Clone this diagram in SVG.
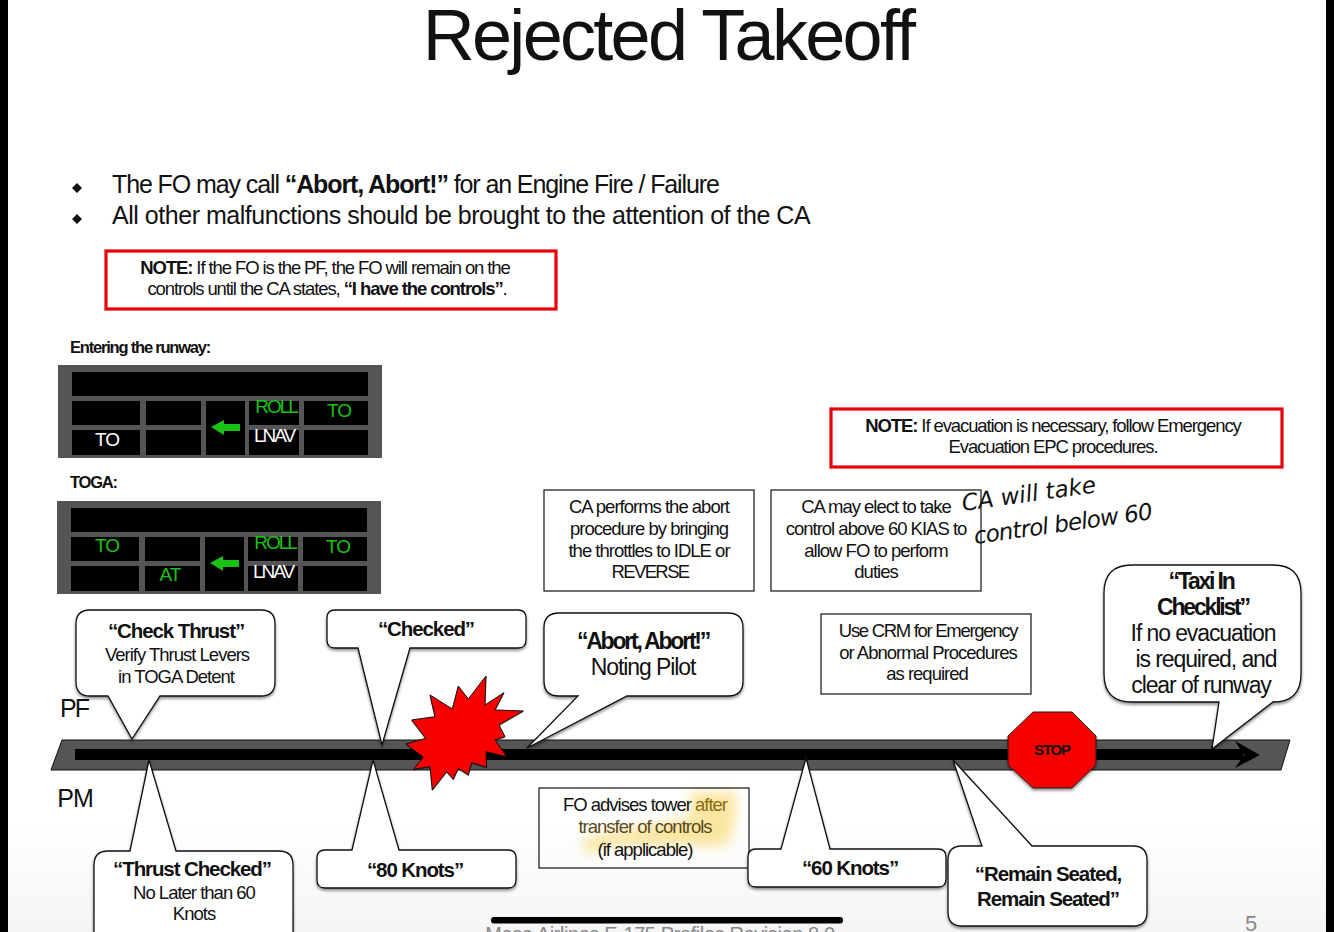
<svg xmlns="http://www.w3.org/2000/svg" width="1334" height="932" viewBox="0 0 1334 932">
<style>
text{font-family:"Liberation Sans",Arial,sans-serif;fill:#111;text-anchor:middle}
.t{font-size:18.5px;letter-spacing:-1px}
.n{font-size:18.5px;letter-spacing:-1.1px}
.b{font-weight:bold}
.c{font-size:20.5px;letter-spacing:-1.1px}
.c2{font-size:23px;letter-spacing:-1.1px}
.c3{font-size:23px;font-weight:bold;letter-spacing:-2.2px}
.cb{fill:#fff;stroke:#111;stroke-width:1.3;filter:url(#sh)}
.box{fill:#fff;stroke:#111;stroke-width:1.2}
.red{fill:#fff;stroke:#e8000d;stroke-width:3.2}
.cell{fill:#000}
.g{fill:#19c214;font-size:19px;letter-spacing:-1px}
.w{fill:#fff;font-size:19px;letter-spacing:-1px}
.tight{letter-spacing:-2px}
.hand{font-family:"DejaVu Sans",sans-serif;font-style:italic;font-size:23px;text-anchor:start;fill:#111}
</style>
<defs>
<filter id="sh" x="-10%" y="-10%" width="120%" height="125%"><feDropShadow dx="0" dy="2" stdDeviation="1.5" flood-color="#000" flood-opacity=".45"/></filter>
<filter id="bl" x="-30%" y="-30%" width="160%" height="160%"><feGaussianBlur stdDeviation="6"/></filter>
<linearGradient id="bg" x1="0" y1="0" x2="0" y2="1"><stop offset=".88" stop-color="#fff"/><stop offset="1" stop-color="#f5f5f5"/></linearGradient>
<g id="panel">
<rect x="58" y="365" width="324" height="93" fill="#555"/>
<rect class="cell" x="72" y="372" width="296" height="24"/>
<rect class="cell" x="72" y="401" width="68" height="24"/><rect class="cell" x="146" y="401" width="55" height="24"/>
<rect class="cell" x="72" y="430" width="68" height="25"/><rect class="cell" x="146" y="430" width="55" height="25"/>
<rect class="cell" x="206" y="401" width="39" height="54"/>
<rect class="cell" x="249" y="401" width="50" height="24"/><rect class="cell" x="249" y="430" width="50" height="25"/>
<rect class="cell" x="304" y="401" width="64" height="24"/><rect class="cell" x="304" y="430" width="64" height="25"/>
<polygon points="211,427 224,420 224,424 240,424 240,431 224,431 224,435" fill="#19c214"/>
<text class="g tight" x="276" y="413">ROLL</text>
<text class="w tight" x="274" y="442">LNAV</text>
<text class="g" x="339" y="417">TO</text>
</g>
</defs>
<rect width="1334" height="932" fill="url(#bg)"/>
<rect x="0" y="0" width="8" height="932" fill="#000"/>
<rect x="1326" y="0" width="8" height="932" fill="#000"/>

<text id="title" x="668" y="60" font-size="72" letter-spacing="-2.7">Rejected Takeoff</text>

<g id="bullets">
<path d="M77 183l5 5-5 5-5-5zM77 214l5 5-5 5-5-5z" fill="#111"/>
<text x="112" y="193" font-size="25" letter-spacing="-1.1" style="text-anchor:start">The FO may call <tspan class="b">“Abort, Abort!”</tspan> for an Engine Fire / Failure</text>
<text x="112" y="224" font-size="25" letter-spacing="-.47" style="text-anchor:start">All other malfunctions should be brought to the attention of the CA</text>
</g>

<g id="note1">
<rect class="red" x="106" y="251" width="450" height="58"/>
<text class="n" x="325" y="274"><tspan class="b">NOTE:</tspan> If the FO is the PF, the FO will remain on the</text>
<text class="n" x="327" y="295">controls until the CA states, <tspan class="b">“I have the controls”</tspan>.</text>
</g>

<g id="fma1">
<text class="b" x="70" y="353" font-size="16.5" letter-spacing="-1.2" style="text-anchor:start">Entering the runway:</text>
<use href="#panel"/>
<text class="w" x="107" y="446">TO</text>
</g>
<g id="fma2">
<text class="b" x="70" y="488" font-size="16.5" letter-spacing="-1.2" style="text-anchor:start">TOGA:</text>
<use href="#panel" transform="translate(-1,136)"/>
<text class="g" x="107" y="552">TO</text>
<text class="g" x="170" y="581">AT</text>
</g>

<g id="note2">
<rect class="red" x="831" y="409" width="451" height="58"/>
<text class="n" x="1053" y="432"><tspan class="b">NOTE:</tspan> If evacuation is necessary, follow Emergency</text>
<text class="n" x="1053" y="453">Evacuation EPC procedures.</text>
</g>

<g id="box-ca-abort">
<rect class="box" x="544" y="490" width="210" height="101"/>
<text class="t" x="649" y="513">CA performs the abort</text>
<text class="t" x="649" y="535">procedure by bringing</text>
<text class="t" x="649" y="557">the throttles to IDLE or</text>
<text class="t" x="650" y="578" style="letter-spacing:-1.6px">REVERSE</text>
</g>
<g id="box-ca-control">
<rect class="box" x="771" y="490" width="210" height="101"/>
<text class="t" x="876" y="513">CA may elect to take</text>
<text class="t" x="876" y="535">control above 60 KIAS to</text>
<text class="t" x="876" y="557">allow FO to perform</text>
<text class="t" x="876" y="578">duties</text>
</g>
<g id="handwriting">
<text class="hand" transform="translate(963,511) rotate(-8)">CA will take</text>
<text class="hand" transform="translate(975,544) rotate(-8)" style="letter-spacing:-.8px">control below 60</text>
</g>
<g id="box-crm">
<rect class="box" x="821" y="614" width="210" height="80"/>
<text class="t" x="928" y="637" style="letter-spacing:-1.3px">Use CRM for Emergency</text>
<text class="t" x="928" y="659">or Abnormal Procedures</text>
<text class="t" x="927" y="680">as required</text>
</g>
<g id="box-tower">
<path d="M690 792h46v26l-8 28h-116l-28 8v-16l50-10 56-10z" fill="#f8dc7c" opacity=".7" filter="url(#bl)"/>
<rect x="539" y="788" width="210" height="80" fill="none" stroke="#111" stroke-width="1.2"/>
<text class="t" x="645" y="811">FO advises tower <tspan style="fill:#8a6a10">after</tspan></text>
<text class="t" x="645" y="833" style="fill:#5a4a1a">transfer of controls</text>
<text class="t" x="645" y="856">(if applicable)</text>
</g>

<text id="pf" x="74" y="717" font-size="25" letter-spacing="-2">PF</text>
<text id="pm" x="75" y="807" font-size="25" letter-spacing="-1">PM</text>

<g id="timeline">
<polygon points="62,740 1290,740 1281,770 51,770" fill="#555" stroke="#111" stroke-width="1"/>
<path d="M75 749H1243V760H75z" fill="#000"/>
<path d="M1235 741L1260 755L1235 768L1244 755z" fill="#000"/>
</g>

<g id="connectors">
<path class="cb" d="M90 610H261Q275 610 275 624V682Q275 696 261 696H160L132 739L108 696H90Q76 696 76 682V624Q76 610 90 610Z"/>
<path class="cb" d="M335 610H518Q526 610 526 618V640Q526 648 518 648H410L382 745L358 648H335Q327 648 327 640V618Q327 610 335 610Z"/>
<path class="cb" d="M559 613H728Q743 613 743 628V681Q743 696 728 696H627L527 748L578 696H559Q544 696 544 681V628Q544 613 559 613Z"/>
<path class="cb" d="M1132 565H1273Q1301 565 1301 593V674Q1301 702 1273 702L1212 749L1219 702H1132Q1104 702 1104 674V593Q1104 565 1132 565Z"/>
<path class="cb" d="M130 851L149 760L176 851H279Q293 851 293 865V945H94V865Q94 851 108 851Z"/>
<path class="cb" d="M325 850H352L373 760L399 850H508Q516 850 516 858V880Q516 888 508 888H325Q317 888 317 880V858Q317 850 325 850Z"/>
<path class="cb" d="M756 849H781L806 758L830 849H938Q946 849 946 857V879Q946 887 938 887H756Q748 887 748 879V857Q748 849 756 849Z"/>
<path class="cb" d="M962 846H982L953 760L1032 846H1133Q1147 846 1147 860V912Q1147 926 1133 926H962Q948 926 948 912V860Q948 846 962 846Z"/>
</g>

<g id="burst">
<polygon transform="translate(380,660) scale(.3333)" filter="url(#sh)" fill="#f70000" stroke="#111" stroke-width="3" points="318,48 315,135 372,98 345,150 430,153 357,195 375,230 345,240 380,290 318,275 320,322 275,308 265,345 235,325 220,358 200,335 157,390 150,320 100,328 130,292 78,252 137,235 95,180 165,170 150,105 217,147 235,78 265,117"/>
</g>
<g id="stop">
<polygon points="1033,712 1072,712 1096,736 1096,765 1072,788 1033,788 1008,765 1008,736" fill="#f70000" stroke="#222" stroke-width="1" filter="url(#sh)"/>
<text class="b" x="1052" y="755" font-size="15" letter-spacing="-1.2">STOP</text>
</g>

<g id="check-thrust"><text class="c b" x="176" y="638">“Check Thrust”</text><text class="t" x="177" y="661">Verify Thrust Levers</text><text class="t" x="176" y="683">in TOGA Detent</text></g>
<g id="checked"><text class="c b" x="426" y="636">“Checked”</text></g>
<g id="abort"><text class="c3" x="643" y="649">“Abort, Abort!”</text><text class="c2" x="643" y="675">Noting Pilot</text></g>
<g id="taxi"><text class="c3" x="1201" y="589">“Taxi In</text><text class="c3" x="1203" y="615">Checklist”</text><text class="c2" x="1203" y="641">If no evacuation</text><text class="c2" x="1206" y="667">is required, and</text><text class="c2" x="1201" y="693">clear of runway</text></g>
<g id="thrust-checked"><text class="c b" x="192" y="876">“Thrust Checked”</text><text class="t" x="194" y="899">No Later than 60</text><text class="t" x="194" y="920">Knots</text></g>
<g id="k80"><text class="c b" x="415" y="877">“80 Knots”</text></g>
<g id="k60"><text class="c b" x="850" y="875">“60 Knots”</text></g>
<g id="remain"><text class="c b" x="1048" y="881">“Remain Seated,</text><text class="c b" x="1048" y="906">Remain Seated”</text></g>

<g id="footer">
<text x="660" y="941" font-size="20" letter-spacing="-.4" style="fill:#888">Mesa Airlines E-175 Profiles Revision 8.0</text>
<rect x="491" y="917" width="352" height="6.5" rx="3" fill="#000"/>
<text x="1251" y="931" font-size="22" style="fill:#888">5</text>
</g>
</svg>
